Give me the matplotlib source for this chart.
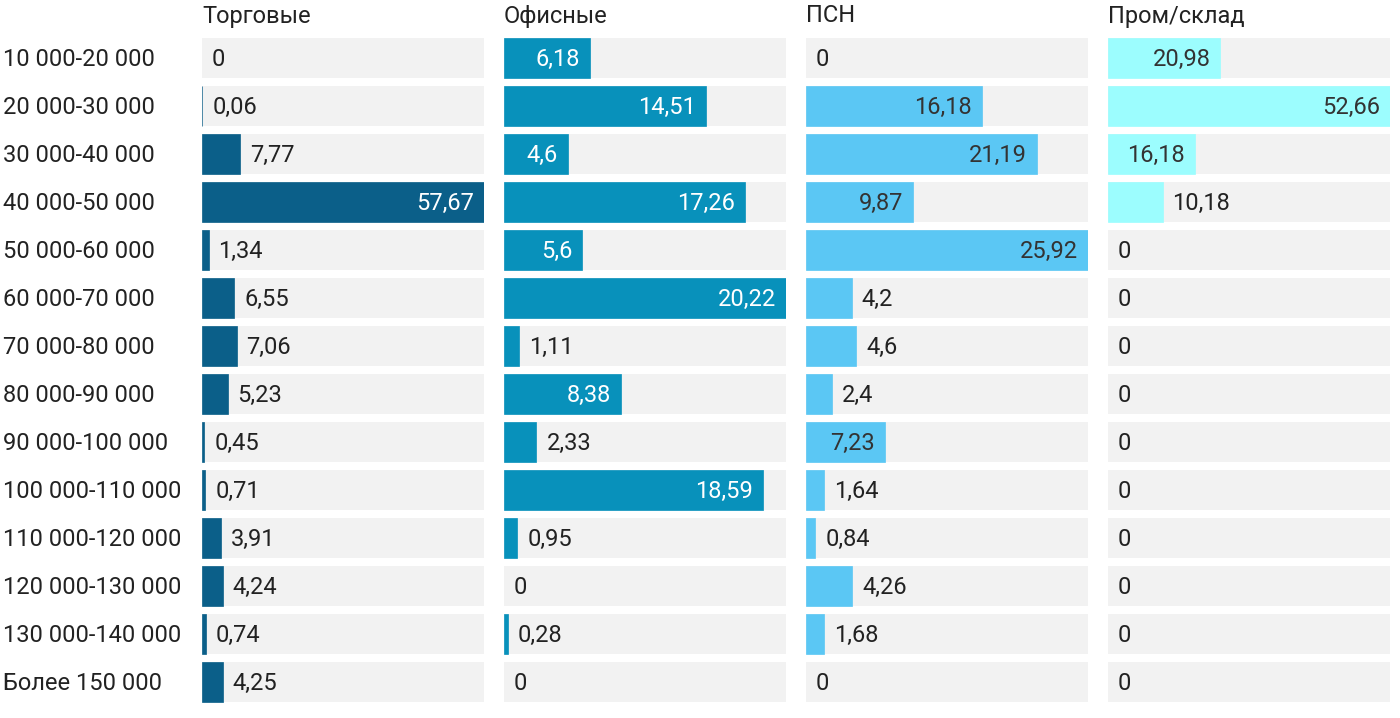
import matplotlib
matplotlib.use("Agg")
import matplotlib.pyplot as plt

plt.rcParams['font.family'] = ['Roboto', 'DejaVu Sans']

categories = ['10 000-20 000', '20 000-30 000', '30 000-40 000', '40 000-50 000',
              '50 000-60 000', '60 000-70 000', '70 000-80 000', '80 000-90 000',
              '90 000-100 000', '100 000-110 000', '110 000-120 000',
              '120 000-130 000', '130 000-140 000', 'Более 150 000']

titles = ['Торговые', 'Офисные', 'ПСН', 'Пром/склад']

torg = [0, 0.06, 7.77, 57.67, 1.34, 6.55, 7.06, 5.23, 0.45, 0.71, 3.91, 4.24, 0.74, 4.25]
ofis = [6.18, 14.51, 4.6, 17.26, 5.6, 20.22, 1.11, 8.38, 2.33, 18.59, 0.95, 0, 0.28, 0]
psn = [0, 16.18, 21.19, 9.87, 25.92, 4.2, 4.6, 2.4, 7.23, 1.64, 0.84, 4.26, 1.68, 0]
prom = [20.98, 52.66, 16.18, 10.18, 0, 0, 0, 0, 0, 0, 0, 0, 0, 0]

series = [torg, ofis, psn, prom]
colors = ['#0b5f89', '#0891bb', '#5bc7f4', '#9cfdfe']
inside_text = ['white', 'white', '#333333', '#333333']

W, H = 1400, 718
fig = plt.figure(figsize=(14, 7.18), dpi=100)
fig.patch.set_facecolor('white')

fs = 17
lefts = [202, 504, 806, 1108]
panel_w = 282
top_px, bot_px = 34, 706
n = len(categories)
bar_h = 40 / 48
dy = 1.5 / 48  # small downward nudge of labels, in row units

fig.canvas.draw()
renderer = fig.canvas.get_renderer()

for k, vals in enumerate(series):
    ax = fig.add_axes([lefts[k] / W, (H - bot_px) / H, panel_w / W, (bot_px - top_px) / H])
    vmax = max(vals)
    ax.set_xlim(0, vmax)
    ax.set_ylim(n - 0.5, -0.5)
    ax.axis('off')
    ypos = list(range(n))
    ax.barh(ypos, [vmax] * n, height=bar_h, color='#f2f2f2', linewidth=0)
    for i, v in enumerate(vals):
        if v > 0:
            ax.barh(i, v, height=bar_h, color=colors[k], edgecolor=colors[k], linewidth=0.5)
    px_per_unit = panel_w / vmax
    pad = 10
    for i, v in enumerate(vals):
        lab = ('%g' % v).replace('.', ',')
        t = ax.text(0, i + dy, lab, fontsize=fs, va='center', ha='left', color='#222222')
        tw = t.get_window_extent(renderer=renderer).width
        bar_px = v * px_per_unit
        # label goes inside only when there is room to spare
        if bar_px >= tw + 2 * pad + 6:
            t.set_x(v - pad / px_per_unit)
            t.set_ha('right')
            t.set_color(inside_text[k])
        else:
            t.set_x(v + pad / px_per_unit)
    fig.text(lefts[k] / W, 1 - 16 / H, titles[k], fontsize=fs, va='center', ha='left', color='#222222')

for i, c in enumerate(categories):
    y = 59.5 + 48 * i
    fig.text(3 / W, 1 - y / H, c, fontsize=fs, va='center', ha='left', color='#222222')

fig.savefig('out.png', dpi=100)
